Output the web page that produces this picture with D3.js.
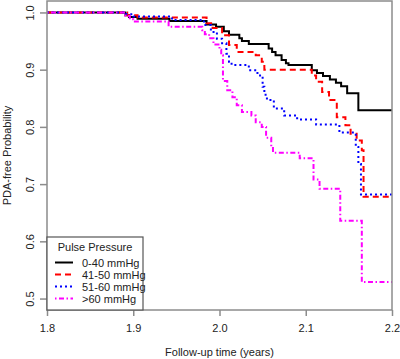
<!DOCTYPE html>
<html><head><meta charset="utf-8">
<script src="https://cdn.jsdelivr.net/npm/d3@7"></script>
<style>body{margin:0;background:#fff;} svg{display:block;font-family:"Liberation Sans",Arial,sans-serif;}</style>
</head><body>
<script>
const seriesNames = ["0-40 mmHg","41-50 mmHg","51-60 mmHg",">60 mmHg"];
const seriesColors = ["#000000","#ff0000","#0000ff","#ff00ff"];
const seriesDash = [null,"6,4","2,3","1.5,2.5,5,2.5"];
const xTicks = [1.8,1.9,2.0,2.1,2.2];
const yTicks = [0.5,0.6,0.7,0.8,0.9,1.0];

const t040 = [1.8,1.891,1.895,1.905,1.942,1.985,1.996,2.005,2.011,2.023,2.026,2.034,2.057,2.061,2.065,2.072,2.077,2.080,2.107,2.113,2.120,2.128,2.135,2.141,2.148,2.161,2.2];
const s040 = [1.0,0.995,0.992,0.989,0.985,0.979,0.975,0.967,0.961,0.955,0.950,0.945,0.937,0.931,0.925,0.917,0.911,0.908,0.899,0.894,0.889,0.883,0.877,0.871,0.859,0.829,0.829];

const t4150 = [1.8,1.893,1.905,1.985,1.992,2.003,2.011,2.020,2.042,2.049,2.052,2.107,2.112,2.119,2.127,2.136,2.146,2.152,2.159,2.165,2.167,2.2];
const s4150 = [1.0,0.995,0.991,0.981,0.973,0.960,0.943,0.931,0.925,0.914,0.900,0.890,0.879,0.861,0.847,0.817,0.803,0.788,0.776,0.759,0.678,0.678];

const t5160 = [1.8,1.892,1.900,1.945,1.982,1.990,1.997,2.003,2.008,2.011,2.014,2.034,2.044,2.050,2.052,2.055,2.063,2.075,2.090,2.112,2.139,2.158,2.161,2.164,2.2];
const s5160 = [1.0,0.997,0.993,0.987,0.978,0.966,0.954,0.946,0.928,0.914,0.908,0.899,0.890,0.870,0.856,0.847,0.832,0.820,0.813,0.804,0.790,0.765,0.735,0.682,0.682];

const t60 = [1.8,1.891,1.896,1.900,1.941,1.980,1.983,1.988,1.993,2.000,2.002,2.004,2.009,2.015,2.020,2.026,2.037,2.042,2.049,2.054,2.060,2.062,2.093,2.109,2.116,2.140,2.165,2.2];
const s60 = [1.0,0.994,0.988,0.984,0.975,0.969,0.962,0.955,0.944,0.935,0.925,0.880,0.864,0.852,0.838,0.826,0.820,0.808,0.800,0.781,0.765,0.755,0.745,0.708,0.692,0.636,0.529,0.529];

const times = [t040,t4150,t5160,t60];
const surv = [s040,s4150,s5160,s60];

const W = 400, H = 359;
const L = 47, R = 392, T = 1, B = 310;
const svg = d3.select("body").append("svg").attr("width",W).attr("height",H);

const x = d3.scaleLinear().domain([1.8,2.2]).range([L,R]);
const y = d3.scaleLinear().domain([0.48,1.02]).range([B,T]);

const axisCol = "#8c8c8c", textCol = "#222";

// curves
const line = d3.line().x(d=>x(d[0])).y(d=>y(d[1])).curve(d3.curveStepAfter);
times.forEach((ts,i)=>{
  const pts = ts.map((t,j)=>[t,surv[i][j]]);
  svg.append("path").attr("d",line(pts)).attr("fill","none")
    .attr("stroke",seriesColors[i]).attr("stroke-width",2)
    .attr("stroke-dasharray",seriesDash[i]);
});
// redraw black on top? keep order

// axes
const xAxis = d3.axisBottom(x).tickValues(xTicks).tickFormat(d3.format(".1f")).tickSize(6).tickSizeOuter(0);
const gx = svg.append("g").attr("transform",`translate(0,${B})`).call(xAxis);
gx.select(".domain").remove();
gx.selectAll(".tick line").attr("stroke",axisCol).attr("stroke-width",1.5);
gx.selectAll(".tick text").attr("fill",textCol).attr("font-size",11).attr("dy","0").attr("y",22);

const yAxis = d3.axisLeft(y).tickValues(yTicks).tickFormat(d3.format(".1f")).tickSize(7).tickSizeOuter(0);
const gy = svg.append("g").attr("transform",`translate(${L},0)`).call(yAxis);
gy.select(".domain").remove();
gy.selectAll(".tick line").attr("stroke",axisCol).attr("stroke-width",1.5);
gy.selectAll(".tick text").attr("fill",textCol).attr("font-size",11)
  .attr("x",0).attr("dy","0").attr("text-anchor","middle")
  .attr("transform","translate(-13,0) rotate(-90)");

// box
svg.append("rect").attr("x",L).attr("y",T).attr("width",R-L).attr("height",B-T)
  .attr("fill","none").attr("stroke",axisCol).attr("stroke-width",1.5);

// titles
svg.append("text").attr("x",(L+R)/2).attr("y",356).attr("text-anchor","middle")
  .attr("font-size",11).attr("fill",textCol).text("Follow-up time (years)");
svg.append("text").attr("transform",`translate(11,${(T+B)/2}) rotate(-90)`).attr("text-anchor","middle")
  .attr("font-size",11).attr("fill",textCol).text("PDA-free Probability");

// legend
const lg = svg.append("g");
lg.append("rect").attr("x",L).attr("y",237).attr("width",143-L).attr("height",B-237)
  .attr("fill","#fff").attr("stroke","#555").attr("stroke-width",1.2);
lg.append("text").attr("x",95).attr("y",250.5).attr("text-anchor","middle")
  .attr("font-size",11).attr("fill",textCol).text("Pulse Pressure");
seriesNames.forEach((n,i)=>{
  const yy = 262.5 + i*12;
  lg.append("line").attr("x1",55).attr("x2",73).attr("y1",yy).attr("y2",yy)
    .attr("stroke",seriesColors[i]).attr("stroke-width",2).attr("stroke-dasharray",seriesDash[i]);
  lg.append("text").attr("x",82).attr("y",yy+4).attr("font-size",11).attr("fill",textCol).text(n);
});
</script>
</body></html>
